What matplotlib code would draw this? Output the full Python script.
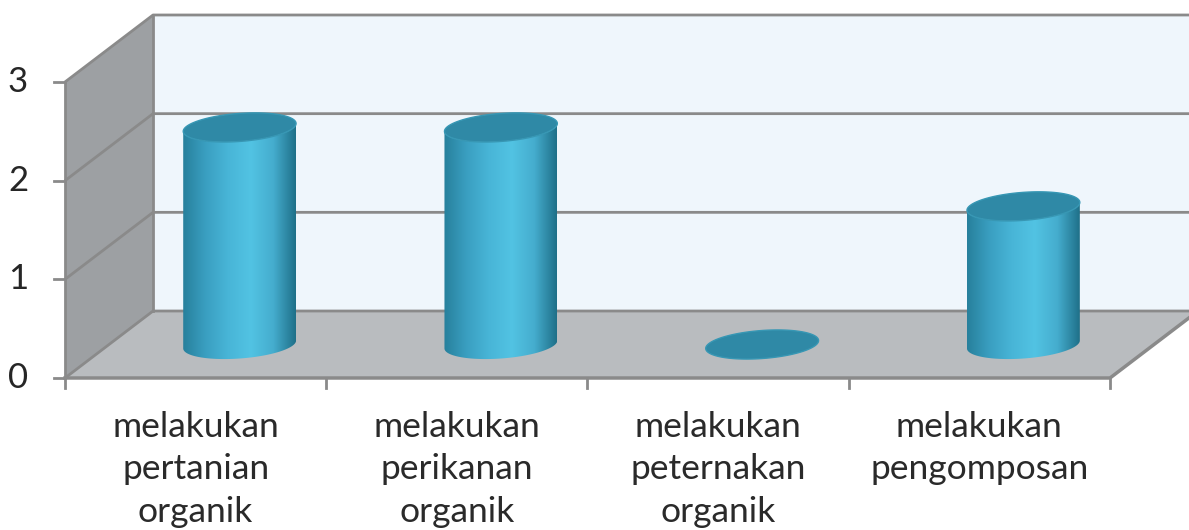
import numpy as np
import matplotlib.pyplot as plt
from matplotlib.patches import Polygon
from matplotlib.colors import LinearSegmentedColormap

categories = ["melakukan\npertanian\norganik", "melakukan\nperikanan\norganik",
              "melakukan\npeternakan\norganik", "melakukan\npengomposan"]
values = [2.2, 2.2, 0, 1.4]
yticks = [0, 1, 2, 3]

# oblique "3d" look: depth offset and cylinder size, in data units
DX, DY = 0.337, 0.679
RX, RY, SK = 0.216, 0.142, 0.04

fig = plt.figure(figsize=(11.89, 5.30), dpi=100)
ax = fig.add_axes([0, 0, 1, 1])
ax.set_xlim(-0.2488, 4.3024)
ax.set_ylim(-1.5405, 3.831)
ax.axis('off')

n = len(categories)
ymax = yticks[-1]
grid_c = '#8a8a8a'

# walls and floor
ax.add_patch(Polygon([(DX, DY), (n + DX, DY), (n + DX, ymax + DY), (DX, ymax + DY)],
                     fc='#eff6fc', ec='none', zorder=1))
ax.add_patch(Polygon([(0, 0), (DX, DY), (DX, ymax + DY), (0, ymax)],
                     fc='#9da0a3', ec='none', zorder=1))
ax.add_patch(Polygon([(0, 0), (n, 0), (n + DX, DY), (DX, DY)],
                     fc='#b9bcbf', ec='none', zorder=1))
for t in yticks:
    ax.plot([0, DX, n + DX], [t, t + DY, t + DY], color=grid_c, lw=2, zorder=2,
            solid_capstyle='butt')
ax.plot([DX, DX], [DY, ymax + DY], color=grid_c, lw=2, zorder=2)
ax.plot([0, 0], [0, ymax], color=grid_c, lw=2, zorder=2)
ax.plot([0, n, n + DX], [0, 0, DY], color=grid_c, lw=2.5, zorder=2)

# ticks
for t in yticks:
    ax.plot([-0.042, 0], [t, t], color=grid_c, lw=2, zorder=2)
    ax.text(-0.18, t, str(t), ha='center', va='center', fontsize=25,
            color='#262626', family='Lato')
for i in range(n + 1):
    ax.plot([i, i], [0, -0.1], color=grid_c, lw=2, zorder=2)

side_cmap = LinearSegmentedColormap.from_list(
    'cyl', ['#27809c', '#3a9fc1', '#48b5d7', '#52c3e3', '#45adce', '#1f7089'])
grad = np.linspace(0, 1, 256)[None, :]

for i, v in enumerate(values):
    cx = i + 0.5 + DX / 2
    cy = DY / 2
    top = cy + v
    if v > 0:
        tt = np.linspace(np.pi, 2 * np.pi, 80)
        bx = cx + RX * np.cos(tt)
        by = cy + RY * np.sin(tt) + SK * np.cos(tt)
        ux = cx + RX * np.cos(tt[::-1])
        uy = top + RY * np.sin(tt[::-1]) + SK * np.cos(tt[::-1])
        side = Polygon(np.column_stack([np.r_[bx, ux], np.r_[by, uy]]),
                       fc='none', ec='none', zorder=3)
        ax.add_patch(side)
        im = ax.imshow(grad, cmap=side_cmap, aspect='auto', zorder=3,
                       extent=(cx - RX, cx + RX, cy - RY - SK, top + RY + SK))
        im.set_clip_path(side)
    ta = np.linspace(0, 2 * np.pi, 120)
    ax.add_patch(Polygon(np.column_stack([cx + RX * np.cos(ta),
                                          top + RY * np.sin(ta) + SK * np.cos(ta)]),
                         fc='#2f89a6', ec='#3797b4', lw=1, zorder=4))

for i, lab in enumerate(categories):
    ax.text(i + 0.5, -0.33, lab, ha='center', va='top', fontsize=25.5,
            linespacing=1.42, color='#2a2a2a', family='Lato')

ax.set_xlim(-0.2488, 4.3024)
ax.set_ylim(-1.5405, 3.831)
fig.savefig('out.png', dpi=100)
